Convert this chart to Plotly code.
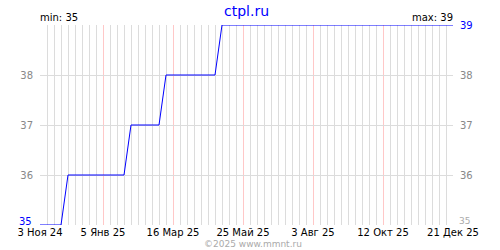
import pandas as pd
import plotly.graph_objects as go

# weekly observations, 3 Nov 2024 .. 21 Dec 2025
dates = pd.date_range("2024-11-03", "2025-12-21", freq="7D")
values = [35]*4 + [36]*9 + [37]*5 + [38]*8 + [39]*(len(dates)-26)

label_dates = ["2024-11-03", "2025-01-05", "2025-03-16", "2025-05-25",
               "2025-08-03", "2025-10-12", "2025-12-21"]
label_text = ["3 Ноя 24", "5 Янв 25", "16 Мар 25", "25 Май 25",
              "3 Авг 25", "12 Окт 25", "21 Дек 25"]
left_ticks = [35, 36, 37, 38, 39]
left_text = ["", "36", "37", "38", ""]
right_ticks = [36, 37, 38, 39]
right_text = ["36", "37", "38", "<span style='color:#0000ff'>39</span>"]
title = "ctpl.ru"
vmin, vmax = min(values), max(values)

FONT = "DejaVu Sans"
fig = go.Figure()
fig.add_trace(go.Scatter(x=dates, y=values, mode="lines",
                         line=dict(color="#0000ff", width=1), hoverinfo="skip"))
fig.add_trace(go.Scatter(x=dates, y=values, mode="lines", yaxis="y2",
                         line=dict(color="rgba(0,0,0,0)", width=0), hoverinfo="skip"))

fig.update_layout(
    width=500, height=250, margin=dict(l=40, r=47, t=25, b=25),
    paper_bgcolor="white", plot_bgcolor="white", showlegend=False,
    font=dict(family=FONT, size=10, color="#000"),
    xaxis=dict(type="date", range=[dates[0], dates[-1]],
               tickvals=label_dates, ticktext=label_text,
               showgrid=True, gridcolor="#ffc8c8", gridwidth=1,
               minor=dict(dtick=7*86400000, tick0="2024-11-03",
                          showgrid=True, gridcolor="#dcdcdc", gridwidth=1),
               showline=False, zeroline=False, ticks="", ticklen=0,
               tickfont=dict(family=FONT, size=10, color="#000")),
    yaxis=dict(range=[35, 39], tickvals=left_ticks, ticktext=left_text,
               showgrid=True, gridcolor="#dcdcdc", gridwidth=1, zeroline=False,
               showline=False, ticks="", ticklabelstandoff=6,
               tickfont=dict(family=FONT, size=10, color="#888")),
    yaxis2=dict(range=[35, 39], overlaying="y", side="right",
                tickvals=right_ticks, ticktext=right_text,
                showgrid=False, zeroline=False, showline=False, ticks="",
                ticklabelstandoff=6,
                tickfont=dict(family=FONT, size=10, color="#888")),
)

fig.add_annotation(text=title, x=0.5, y=1, xref="paper", yref="paper", yshift=24,
                   xanchor="center", yanchor="top", showarrow=False,
                   font=dict(family=FONT, size=14, color="#0000ff"))
fig.add_annotation(text=f"min: {vmin}", x=0, y=1, xref="paper", yref="paper",
                   xanchor="left", yanchor="bottom", showarrow=False, xshift=-2,
                   font=dict(family=FONT, size=10, color="#000"))
fig.add_annotation(text=f"max: {vmax}", x=1, y=1, xref="paper", yref="paper",
                   xanchor="right", yanchor="bottom", showarrow=False, xshift=2,
                   font=dict(family=FONT, size=10, color="#000"))
fig.add_annotation(text=str(vmin), x=0, y=vmin, xref="paper", yref="y",
                   xanchor="right", yanchor="bottom", showarrow=False, xshift=-6, yshift=-4,
                   font=dict(family=FONT, size=10, color="#0000ff"))
fig.add_annotation(text=str(vmin), x=1, y=vmin, xref="paper", yref="y",
                   xanchor="left", yanchor="bottom", showarrow=False, xshift=4, yshift=-3,
                   font=dict(family=FONT, size=9, color="#aaa"))
fig.add_annotation(text="©2025 www.mmnt.ru", x=0.5, y=0, xref="paper", yref="paper",
                   xanchor="center", yanchor="top", showarrow=False, yshift=-12, xshift=6,
                   font=dict(family=FONT, size=9, color="#aaa"))

fig.write_html("out.html")
